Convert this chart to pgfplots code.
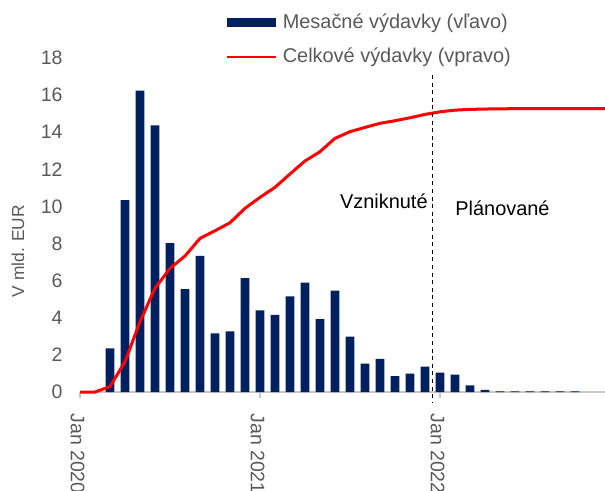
\documentclass[border=0pt]{standalone}
\usepackage{pgfplots}
\pgfplotsset{compat=1.18}
\usepackage{fontspec}
\setmainfont{Liberation Sans}
\definecolor{navy}{RGB}{0,32,96}
\definecolor{tickgray}{RGB}{89,89,89}
\definecolor{axgray}{RGB}{200,200,200}
\begin{document}
\begin{tikzpicture}
\begin{axis}[
  scale only axis, width=262.5bp, height=167bp,
  xmin=0, xmax=35, ymin=0, ymax=18,
  clip=false,
  axis x line*=bottom, axis y line*=left,
  x axis line style={-, axgray, line width=0.6bp},
  y axis line style={draw=none},
  /pgf/number format/assume math mode=true,
  ytick={0,2,...,18},
  ytick style={draw=none},
  xtick={0,12,24},
  xticklabels={Jan 2020,Jan 2021,Jan 2022},
  xtick style={axgray, line width=0.6bp},
  tick align=outside, major tick length=3bp,
  yticklabel style={font=\fontsize{9.8}{11}\selectfont, text=tickgray, inner sep=0pt, xshift=-5.5bp},
  xticklabel style={font=\fontsize{9.8}{11}\selectfont, text=tickgray, rotate=-90, anchor=west, inner sep=0pt, xshift=7.5bp, yshift=-1.2bp},
  ylabel={V mld. EUR},
  ylabel style={at={(axis description cs:-0.118,0.422)}, anchor=center, rotate=0, font=\fontsize{8.7}{10}\selectfont, text=tickgray},
  legend style={at={(axis description cs:0.2762,1.1347)}, anchor=north west, draw=none, fill=none, inner sep=0pt,
    font=\fontsize{10}{12}\selectfont, text=tickgray, row sep=8.5bp, column sep=3bp,
    nodes={inner sep=0pt, anchor=west}},
  legend cell align=left,
]
\addplot[ybar, bar width=0.58, fill=navy, draw=none,
  legend image code/.code={\fill[navy] (0bp,-2.25bp) rectangle (24.5bp,2.25bp);}]
  coordinates {
  (2,2.35) (3,10.34) (4,16.24) (5,14.37) (6,8.03) (7,5.55) (8,7.33) (9,3.16)
  (10,3.27) (11,6.14) (12,4.40) (13,4.15) (14,5.15) (15,5.89) (16,3.93) (17,5.46)
  (18,2.98) (19,1.53) (20,1.78) (21,0.86) (22,0.99) (23,1.37) (24,1.04) (25,0.93)
  (26,0.36) (27,0.12) (28,0.04) (29,0.04) (30,0.04) (31,0.04) (32,0.04) (33,0.04)
  };
\addlegendentry{Mesačné výdavky (vľavo)}
\addplot[red, line width=1.5bp, sharp plot, no markers,
  legend image code/.code={\draw[red, line width=1.2bp] (0bp,0bp) -- (24.5bp,0bp);}]
  coordinates {
  (0,0) (1,0) (2,0.29) (3,1.63) (4,3.79) (5,5.59) (6,6.66) (7,7.33) (8,8.28)
  (9,8.69) (10,9.12) (11,9.90) (12,10.49) (13,11.03) (14,11.75) (15,12.45)
  (16,12.95) (17,13.67) (18,14.03) (19,14.26) (20,14.48) (21,14.62) (22,14.78)
  (23,14.96) (24,15.10) (25,15.19) (26,15.23) (27,15.25) (28,15.26) (29,15.27)
  (30,15.27) (31,15.27) (32,15.27) (33,15.27) (34,15.27) (35,15.27)
  };
\addlegendentry{Celkové výdavky (vpravo)}
\draw[black, line width=0.5bp, dash pattern=on 2bp off 1.8bp] (axis cs:23.53,17.08) -- (axis cs:23.53,-0.54);
\node[anchor=east, inner sep=0pt, font=\fontsize{10}{12}\selectfont] at (axis cs:23.2,10.3) {Vzniknuté};
\node[anchor=west, inner sep=0pt, font=\fontsize{10}{12}\selectfont] at (axis cs:25.0,9.9) {Plánované};
\end{axis}
\pgfresetboundingbox
\path[use as bounding box] ([xshift=-40bp,yshift=-49.5bp]current axis.south west) rectangle ([yshift=29bp]current axis.north east);
\end{tikzpicture}
\end{document}
